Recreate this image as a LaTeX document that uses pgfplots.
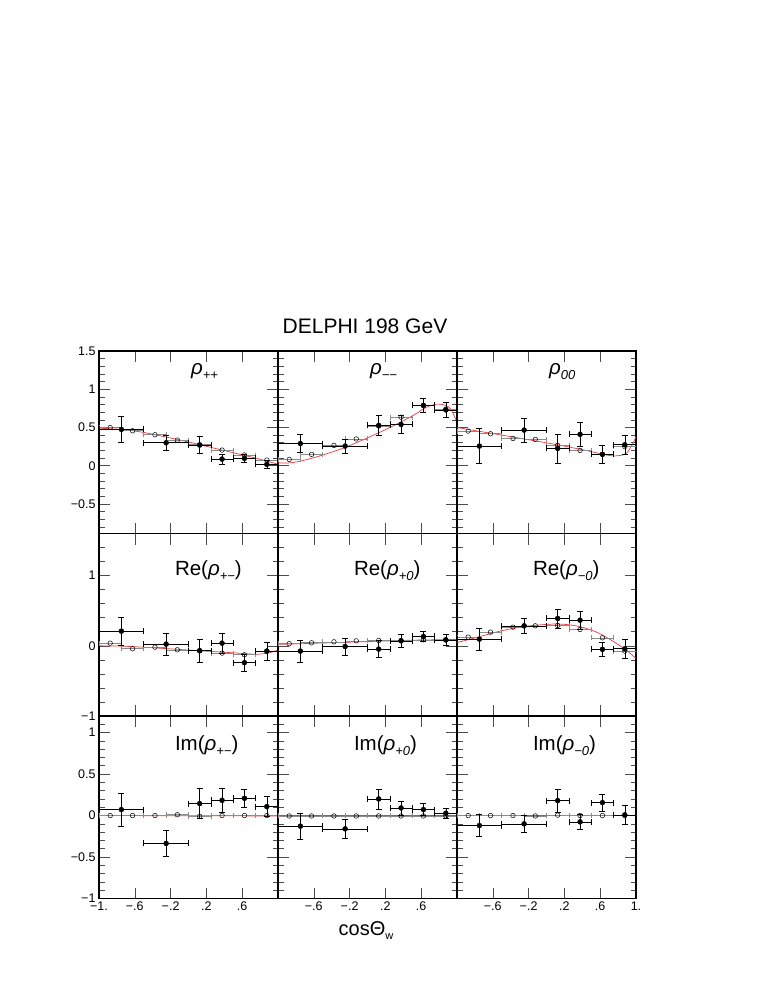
\documentclass[border=0pt]{standalone}
\usepackage{fontspec}
\setmainfont{Liberation Sans}
\usepackage{pgfplots}
\pgfplotsset{compat=1.18}
\usepackage{pgfplotstable}
\definecolor{fitred}{RGB}{230,60,60}
\newcommand{\rh}[1]{\textit{ρ}\raisebox{-0.25em}{\fontsize{13}{13}\selectfont\itshape #1}}
\newcommand{\lab}{\fontsize{20.5}{24}\selectfont}

% filled points: x y ex ey
\pgfplotstableread{
x y ex ey
-0.75 0.475 0.25 0.165
-0.25 0.30 0.25 0.10
0.125 0.27 0.125 0.11
0.375 0.087 0.125 0.065
0.625 0.096 0.125 0.055
0.875 0.018 0.125 0.055
}\dA
\pgfplotstableread{
x y ex ey
-0.75 0.29 0.25 0.12
-0.25 0.257 0.25 0.095
0.125 0.527 0.125 0.13
0.375 0.54 0.125 0.12
0.625 0.788 0.125 0.09
0.875 0.73 0.125 0.095
}\dB
\pgfplotstableread{
x y ex ey
-0.75 0.257 0.25 0.23
-0.25 0.466 0.25 0.155
0.125 0.227 0.125 0.19
0.375 0.41 0.125 0.16
0.625 0.149 0.125 0.12
0.875 0.274 0.125 0.13
}\dC
\pgfplotstableread{
x y ex ey
-0.75 0.209 0.25 0.195
-0.25 0.024 0.25 0.16
0.125 -0.07 0.125 0.165
0.375 0.038 0.125 0.145
0.625 -0.24 0.125 0.125
0.875 -0.075 0.125 0.13
}\dD
\pgfplotstableread{
x y ex ey
-0.75 -0.075 0.25 0.16
-0.25 -0.01 0.25 0.12
0.125 -0.047 0.125 0.12
0.375 0.071 0.125 0.09
0.625 0.133 0.125 0.075
0.875 0.085 0.125 0.075
}\dE
\pgfplotstableread{
x y ex ey
-0.75 0.095 0.25 0.155
-0.25 0.285 0.25 0.11
0.125 0.39 0.125 0.135
0.375 0.365 0.125 0.125
0.625 -0.05 0.125 0.105
0.875 -0.042 0.125 0.13
}\dF
\pgfplotstableread{
x y ex ey
-0.75 0.072 0.25 0.2
-0.25 -0.336 0.25 0.155
0.125 0.144 0.125 0.18
0.375 0.184 0.125 0.15
0.625 0.208 0.125 0.105
0.875 0.108 0.125 0.12
}\dG
\pgfplotstableread{
x y ex ey
-0.75 -0.128 0.25 0.155
-0.25 -0.16 0.25 0.11
0.125 0.2 0.125 0.12
0.375 0.092 0.125 0.085
0.625 0.072 0.125 0.072
0.875 0.028 0.125 0.065
}\dH
\pgfplotstableread{
x y ex ey
-0.75 -0.12 0.25 0.135
-0.25 -0.1 0.25 0.1
0.125 0.18 0.125 0.135
0.375 -0.076 0.125 0.095
0.625 0.156 0.125 0.1
0.875 0.008 0.125 0.115
}\dI

% open circles: x y ex
\pgfplotstableread{
x y ex
-0.875 0.50 0.125
-0.625 0.457 0.125
-0.375 0.405 0.125
-0.125 0.335 0.125
0.125 0.275 0.125
0.375 0.205 0.125
0.625 0.14 0.125
0.875 0.074 0.125
}\oA
\pgfplotstableread{
x y ex
-0.875 0.083 0.125
-0.625 0.149 0.125
-0.375 0.266 0.125
-0.125 0.35 0.125
0.125 0.52 0.125
0.375 0.635 0.125
0.625 0.79 0.125
0.875 0.74 0.125
}\oB
\pgfplotstableread{
x y ex
-0.875 0.453 0.125
-0.625 0.418 0.125
-0.375 0.357 0.125
-0.125 0.344 0.125
0.125 0.266 0.125
0.375 0.20 0.125
0.625 0.149 0.125
0.875 0.25 0.125
}\oC
\pgfplotstableread{
x y ex
-0.875 0.038 0.125
-0.625 -0.042 0.125
-0.375 -0.019 0.125
-0.125 -0.057 0.125
0.125 -0.07 0.125
0.375 -0.104 0.125
0.625 -0.128 0.125
0.875 -0.075 0.125
}\oD
\pgfplotstableread{
x y ex
-0.875 0.03 0.125
-0.625 0.043 0.125
-0.375 0.057 0.125
-0.125 0.071 0.125
0.125 0.076 0.125
0.375 0.075 0.125
0.625 0.085 0.125
0.875 0.085 0.125
}\oE
\pgfplotstableread{
x y ex
-0.875 0.124 0.125
-0.625 0.195 0.125
-0.375 0.266 0.125
-0.125 0.285 0.125
0.125 0.29 0.125
0.375 0.233 0.125
0.625 0.114 0.125
0.875 -0.075 0.125
}\oF
\pgfplotstableread{
x y ex
-0.875 0 0.125
-0.625 0 0.125
-0.375 0 0.125
-0.125 0.01 0.125
0.125 -0.01 0.125
0.375 0 0.125
0.625 0 0.125
0.875 0 0.125
}\oG
\pgfplotstableread{
x y ex
-0.875 -0.005 0.125
-0.625 -0.005 0.125
-0.375 -0.005 0.125
-0.125 -0.005 0.125
0.125 -0.005 0.125
0.375 -0.005 0.125
0.625 -0.005 0.125
0.875 -0.005 0.125
}\oH
\pgfplotstableread{
x y ex
-0.875 0 0.125
-0.625 0 0.125
-0.375 0 0.125
-0.125 -0.005 0.125
0.125 0.005 0.125
0.375 0 0.125
0.625 0 0.125
0.875 0 0.125
}\oI

\pgfplotsset{
  panel/.style={
    scale only axis, width=179pt, height=182.5pt, anchor=north west,
    xmin=-1, xmax=1,
    xtick={-0.6,-0.2,0.2,0.6}, xticklabels={,,,,,},
    xtick pos=both, ytick pos=both,
    tick align=inside,
    axis line style={line width=1.5pt},
    major tick length=11pt, minor tick length=5.5pt,
    every tick/.style={black!70, line width=0.6pt},
    tick label style={font=\fontsize{12.5}{14}\selectfont},
    yticklabels={,,,,,},
  },
  row1/.style={ymin=-0.886, ymax=1.5, ytick={-0.5,0,0.5,1,1.5},
    minor ytick={-0.8,-0.7,...,1.45}},
  row2/.style={ymin=-1, ymax=1.6, ytick={-1,0,1},
    minor ytick={-0.8,-0.6,...,1.5}},
  row3/.style={ymin=-1, ymax=1.2, ytick={-1,-0.5,0,0.5,1},
    minor ytick={-0.9,-0.8,...,1.15}},
  fit/.style={fitred, line width=0.7pt, smooth, no marks},
  openpts/.style={only marks, mark=o, mark size=2.3pt, black,
    mark options={fill=white, line width=0.5pt},
    error bars/.cd, x dir=both, x explicit,
    error bar style={black!45, line width=0.6pt},
    error mark options={rotate=90, mark size=2.5pt, black!45, line width=0.6pt}},
  fillpts/.style={only marks, mark=*, mark size=2.5pt, black,
    error bars/.cd, x dir=both, x explicit, y dir=both, y explicit,
    error bar style={black, line width=0.6pt},
    error mark options={rotate=90, mark size=3pt, black, line width=0.6pt}},
}

\begin{document}
\begin{tikzpicture}
\path[use as bounding box] (0pt,0pt) rectangle (763pt,-987pt);
\node[anchor=base, font=\fontsize{21}{25}\selectfont] at (365pt,-333pt) {DELPHI 198 GeV};
\node[anchor=base, font=\fontsize{20}{24}\selectfont] at (366pt,-935pt) {cosΘ\raisebox{-0.2em}{\fontsize{11}{12}\selectfont w}};

% ---------- row 1
\begin{axis}[panel,row1, at={(99pt,-351pt)}, yticklabels={−0.5,0,0.5,1,1.5}, yticklabel pos=left]
\addplot[fit] coordinates {(-1,0.49) (-0.75,0.475) (-0.5,0.435) (-0.25,0.375) (0,0.31) (0.25,0.24) (0.5,0.17) (0.75,0.10) (1,0.02)};
\addplot[openpts] table[x=x,y=y,x error=ex] {\oA};
\addplot[fillpts] table[x=x,y=y,x error=ex,y error=ey] {\dA};
\node[anchor=base west, font=\lab] at (axis cs:-0.01,1.19) {\rh{++}};
\end{axis}
\begin{axis}[panel,row1, at={(278pt,-351pt)}]
\addplot[fit] coordinates {(-1,0.04) (-0.9,0.035) (-0.75,0.06) (-0.5,0.14) (-0.25,0.24) (0,0.365) (0.25,0.50) (0.5,0.65) (0.65,0.76) (0.77,0.805) (0.87,0.79) (0.93,0.74) (1,0.57)};
\addplot[openpts] table[x=x,y=y,x error=ex] {\oB};
\addplot[fillpts] table[x=x,y=y,x error=ex,y error=ey] {\dB};
\node[anchor=base west, font=\lab] at (axis cs:-0.01,1.19) {\rh{−−}};
\end{axis}
\begin{axis}[panel,row1, at={(457pt,-351pt)}]
\addplot[fit] coordinates {(-1,0.50) (-0.75,0.45) (-0.5,0.40) (-0.25,0.35) (0,0.30) (0.25,0.245) (0.5,0.185) (0.65,0.145) (0.75,0.128) (0.85,0.14) (0.9,0.17) (0.97,0.30) (1,0.38)};
\addplot[openpts] table[x=x,y=y,x error=ex] {\oC};
\addplot[fillpts] table[x=x,y=y,x error=ex,y error=ey] {\dC};
\node[anchor=base west, font=\lab] at (axis cs:-0.01,1.19) {\rh{00}};
\end{axis}

% ---------- row 2
\begin{axis}[panel,row2, at={(99pt,-533.5pt)}, yticklabels={−1,0,1}, yticklabel pos=left]
\addplot[fit] coordinates {(-1,0.0) (-0.75,-0.005) (-0.5,-0.02) (-0.25,-0.04) (0,-0.06) (0.25,-0.08) (0.5,-0.1) (0.75,-0.12) (0.9,-0.1) (1,-0.06)};
\addplot[openpts] table[x=x,y=y,x error=ex] {\oD};
\addplot[fillpts] table[x=x,y=y,x error=ex,y error=ey] {\dD};
\node[anchor=base west, font=\lab] at (axis cs:-0.19,1.0) {Re(\rh{+−})};
\end{axis}
\begin{axis}[panel,row2, at={(278pt,-533.5pt)}]
\addplot[fit] coordinates {(-1,0.02) (-0.5,0.04) (0,0.06) (0.5,0.08) (1,0.09)};
\addplot[openpts] table[x=x,y=y,x error=ex] {\oE};
\addplot[fillpts] table[x=x,y=y,x error=ex,y error=ey] {\dE};
\node[anchor=base west, font=\lab] at (axis cs:-0.19,1.0) {Re(\rh{+0})};
\end{axis}
\begin{axis}[panel,row2, at={(457pt,-533.5pt)}]
\addplot[fit] coordinates {(-1,0.045) (-0.75,0.13) (-0.5,0.215) (-0.25,0.275) (0,0.305) (0.125,0.31) (0.25,0.30) (0.4,0.265) (0.55,0.20) (0.65,0.135) (0.8,0.02) (0.9,-0.07) (1,-0.18)};
\addplot[openpts] table[x=x,y=y,x error=ex] {\oF};
\addplot[fillpts] table[x=x,y=y,x error=ex,y error=ey] {\dF};
\node[anchor=base west, font=\lab] at (axis cs:-0.19,1.0) {Re(\rh{−0})};
\end{axis}

% ---------- row 3
\begin{axis}[panel,row3, at={(99pt,-716pt)}, yticklabels={−1,−0.5,0,0.5,1}, yticklabel pos=left,
  xtick={-1,-0.6,-0.2,0.2,0.6}, xticklabels={−1.,−.6,−.2,.2,.6}, xticklabel pos=lower]
\addplot[fit] coordinates {(-1,0) (1,-0.005)};
\addplot[openpts] table[x=x,y=y,x error=ex] {\oG};
\addplot[fillpts] table[x=x,y=y,x error=ex,y error=ey] {\dG};
\node[anchor=base west, font=\lab] at (axis cs:-0.19,0.79) {Im(\rh{+−})};
\end{axis}
\begin{axis}[panel,row3, at={(278pt,-716pt)},
  xtick={-0.6,-0.2,0.2,0.6}, xticklabels={−.6,−.2,.2,.6}, xticklabel pos=lower]
\addplot[fit] coordinates {(-1,0) (1,0)};
\addplot[openpts] table[x=x,y=y,x error=ex] {\oH};
\addplot[fillpts] table[x=x,y=y,x error=ex,y error=ey] {\dH};
\node[anchor=base west, font=\lab] at (axis cs:-0.19,0.79) {Im(\rh{+0})};
\end{axis}
\begin{axis}[panel,row3, at={(457pt,-716pt)},
  xtick={-0.6,-0.2,0.2,0.6,1}, xticklabels={−.6,−.2,.2,.6,1.}, xticklabel pos=lower]
\addplot[fit] coordinates {(-1,0) (1,0)};
\addplot[openpts] table[x=x,y=y,x error=ex] {\oI};
\addplot[fillpts] table[x=x,y=y,x error=ex,y error=ey] {\dI};
\node[anchor=base west, font=\lab] at (axis cs:-0.19,0.79) {Im(\rh{−0})};
\end{axis}
\end{tikzpicture}
\end{document}
